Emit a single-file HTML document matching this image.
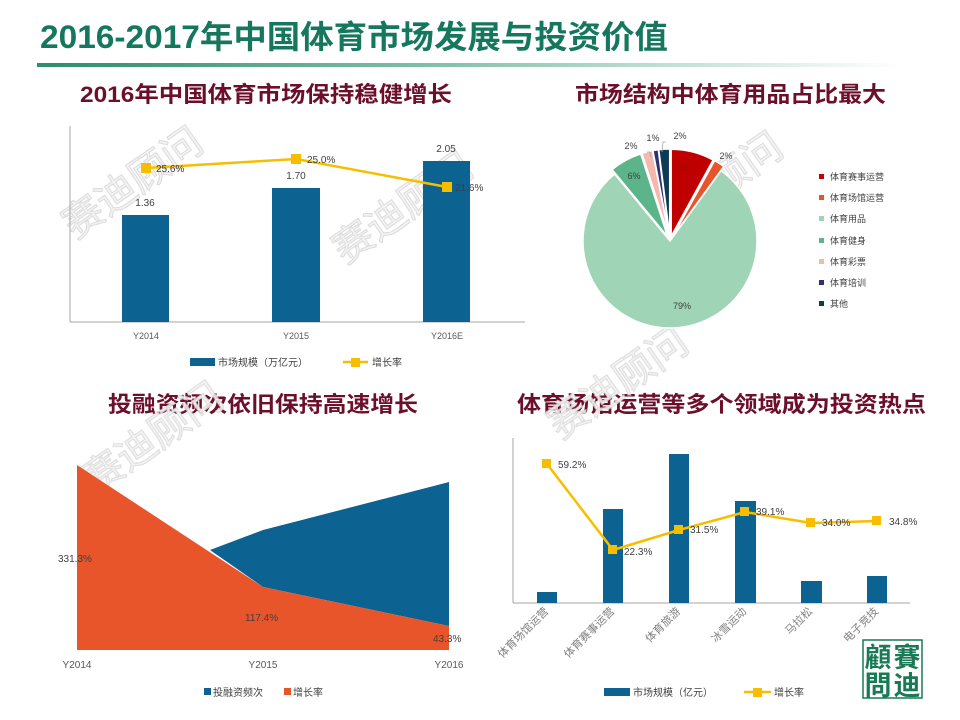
<!DOCTYPE html>
<html><head><meta charset="utf-8">
<style>
html,body{margin:0;padding:0;background:#fff;}
svg{display:block;}
text{font-family:"Liberation Sans","Noto Sans CJK SC",sans-serif;}
</style></head>
<body>
<svg width="960" height="720" viewBox="0 0 960 720" xmlns="http://www.w3.org/2000/svg">
<defs>
<linearGradient id="ul" x1="0" x2="1" y1="0" y2="0">
<stop offset="0" stop-color="#2e8b6e"/>
<stop offset="0.45" stop-color="#7fbfa6"/>
<stop offset="1" stop-color="#ffffff"/>
</linearGradient>
</defs>
<rect width="960" height="720" fill="#fff"/>

<!-- Title -->
<text x="40" y="48" font-size="32" font-weight="bold" fill="#16775f" textLength="628" lengthAdjust="spacingAndGlyphs">2016-2017年中国体育市场发展与投资价值</text>
<rect x="37" y="63" width="863" height="4" fill="url(#ul)"/>

<text x="80" y="102" font-size="22" font-weight="bold" fill="#6b0f2a" textLength="372" lengthAdjust="spacingAndGlyphs">2016年中国体育市场保持稳健增长</text>
<text x="575" y="102" font-size="22" font-weight="bold" fill="#6b0f2a" textLength="311" lengthAdjust="spacingAndGlyphs">市场结构中体育用品占比最大</text>
<text x="108" y="412" font-size="22" font-weight="bold" fill="#6b0f2a" textLength="310" lengthAdjust="spacingAndGlyphs">投融资频次依旧保持高速增长</text>
<text x="517" y="412" font-size="22" font-weight="bold" fill="#6b0f2a" textLength="409" lengthAdjust="spacingAndGlyphs">体育场馆运营等多个领域成为投资热点</text>

<!-- Watermarks -->
<g fill="none" stroke="#d8d8d8" stroke-width="1" font-size="40" opacity="0.9">
<text x="0" y="0" transform="translate(75,240) rotate(-35)" fill="#f2f2f2">赛迪顾问</text>
<text x="0" y="0" transform="translate(345,265) rotate(-35)" fill="#f2f2f2">赛迪顾问</text>
<text x="0" y="0" transform="translate(655,245) rotate(-35)" fill="#f2f2f2">赛迪顾问</text>
<text x="0" y="0" transform="translate(95,495) rotate(-35)" fill="#f2f2f2">赛迪顾问</text>
<text x="0" y="0" transform="translate(560,440) rotate(-35)" fill="#f2f2f2">赛迪顾问</text>
</g>

<!-- Chart 1 -->
<g>
<line x1="70" y1="126" x2="70" y2="322" stroke="#a6a6a6"/>
<line x1="70" y1="322" x2="525" y2="322" stroke="#a6a6a6"/>
<rect x="122" y="215" width="47" height="107" fill="#0c6290"/>
<rect x="272" y="188" width="48" height="134" fill="#0c6290"/>
<rect x="423" y="161" width="47" height="161" fill="#0c6290"/>
<g font-size="10" fill="#404040" text-anchor="middle">
<text x="145" y="206">1.36</text>
<text x="296" y="179">1.70</text>
<text x="446" y="152">2.05</text>
</g>
<polyline points="146,168 296,159 447,187" fill="none" stroke="#f7be00" stroke-width="2.5"/>
<rect x="141" y="163" width="10" height="10" fill="#f7be00"/>
<rect x="291" y="154" width="10" height="10" fill="#f7be00"/>
<rect x="442" y="182" width="10" height="10" fill="#f7be00"/>
<g font-size="10" fill="#404040">
<text x="156" y="172">25.6%</text>
<text x="307" y="163">25.0%</text>
<text x="455" y="191">21.6%</text>
</g>
<g font-size="9" fill="#595959" text-anchor="middle">
<text x="146" y="339">Y2014</text>
<text x="296" y="339">Y2015</text>
<text x="447" y="339">Y2016E</text>
</g>
<rect x="190" y="358" width="25" height="8" fill="#0c6290"/>
<text x="218" y="366" font-size="10" fill="#404040">市场规模（万亿元）</text>
<line x1="343" y1="362" x2="368" y2="362" stroke="#f7be00" stroke-width="2.5"/>
<rect x="351" y="358" width="9" height="9" fill="#f7be00"/>
<text x="372" y="366" font-size="10" fill="#404040">增长率</text>
</g>

<!-- Pie -->
<g stroke="#fff" stroke-width="1.5">
<path d="M670,241 L670,154 A87,87 0 0 1 711.9,164.8 Z" fill="#c00000" transform="translate(1.2,-4.8)"/>
<path d="M670,241 L711.9,164.8 A87,87 0 0 1 721.1,170.6 Z" fill="#e8552b" transform="translate(2.7,-4.2)"/>
<path d="M670,241 L721.1,170.6 A87,87 0 1 1 614.5,174.0 Z" fill="#9fd4b6"/>
<path d="M670,241 L614.5,174.0 A87,87 0 0 1 643.1,158.3 Z" fill="#5bb48a" transform="translate(-2.4,-4.4)"/>
<path d="M670,241 L643.1,158.3 A87,87 0 0 1 653.7,155.5 Z" fill="#f4b8ae" transform="translate(-1.2,-4.8)"/>
<path d="M670,241 L653.7,155.5 A87,87 0 0 1 659.1,154.7 Z" fill="#2e3172" transform="translate(-0.8,-4.9)"/>
<path d="M670,241 L659.1,154.7 A87,87 0 0 1 670,154 Z" fill="#0d3b55" transform="translate(-0.3,-5)"/>
</g>
<g font-size="9" fill="#404040" text-anchor="middle">
<text x="726" y="159">2%</text>
<text x="634" y="179">6%</text>
<text x="631" y="149">2%</text>
<text x="653" y="141">1%</text>
<text x="680" y="139">2%</text>
<text x="682" y="309">79%</text>
<text x="686" y="171" fill="#a00000">8%</text>
</g>
<g stroke="#a6a6a6" stroke-width="0.8" fill="none">
<polyline points="647,152 650,152 651,157"/>
<polyline points="666,142 663,142 662,152"/>
</g>
<g font-size="9" fill="#404040">
<rect x="819" y="174" width="5" height="5" fill="#c00000"/><text x="830" y="180">体育赛事运营</text>
<rect x="819" y="195" width="5" height="5" fill="#e8552b"/><text x="830" y="201">体育场馆运营</text>
<rect x="819" y="216" width="5" height="5" fill="#9fd4b6"/><text x="830" y="222">体育用品</text>
<rect x="819" y="238" width="5" height="5" fill="#5bb48a"/><text x="830" y="244">体育健身</text>
<rect x="819" y="259" width="5" height="5" fill="#f4b8ae"/><text x="830" y="265">体育彩票</text>
<rect x="819" y="280" width="5" height="5" fill="#2e3172"/><text x="830" y="286">体育培训</text>
<rect x="819" y="301" width="5" height="5" fill="#0d3b55"/><text x="830" y="307">其他</text>
</g>

<!-- Area chart -->
<polygon points="210,550 263,530 449,482 449,626 263,587" fill="#0c6290"/>
<polygon points="77,465 263,587 449,626 449,650 77,650" fill="#e8552b"/>
<g font-size="10" fill="#404040">
<text x="58" y="562">331.3%</text>
<text x="245" y="621">117.4%</text>
<text x="433" y="642">43.3%</text>
</g>
<g font-size="10" fill="#595959" text-anchor="middle">
<text x="77" y="668">Y2014</text>
<text x="263" y="668">Y2015</text>
<text x="449" y="668">Y2016</text>
</g>
<rect x="204" y="688" width="7" height="7" fill="#0c6290"/>
<text x="213" y="696" font-size="10" fill="#404040">投融资频次</text>
<rect x="284" y="688" width="7" height="7" fill="#e8552b"/>
<text x="293" y="696" font-size="10" fill="#404040">增长率</text>

<!-- Bottom-right chart -->
<line x1="513" y1="438" x2="513" y2="603" stroke="#a6a6a6"/>
<line x1="513" y1="603" x2="910" y2="603" stroke="#a6a6a6"/>
<g fill="#0c6290">
<rect x="537" y="592" width="20" height="11"/>
<rect x="603" y="509" width="20" height="94"/>
<rect x="669" y="454" width="20" height="149"/>
<rect x="735" y="501" width="21" height="102"/>
<rect x="801" y="581" width="21" height="22"/>
<rect x="867" y="576" width="20" height="27"/>
</g>
<polyline points="547,464 613,550 679,530 745,512 811,523 877,521" fill="none" stroke="#f7be00" stroke-width="2.5"/>
<g fill="#f7be00">
<rect x="542" y="459" width="9" height="9"/>
<rect x="608" y="545" width="9" height="9"/>
<rect x="674" y="525" width="9" height="9"/>
<rect x="740" y="507" width="9" height="9"/>
<rect x="806" y="518" width="9" height="9"/>
<rect x="872" y="516" width="9" height="9"/>
</g>
<g font-size="10" fill="#404040">
<text x="558" y="468">59.2%</text>
<text x="624" y="555">22.3%</text>
<text x="690" y="533">31.5%</text>
<text x="756" y="515">39.1%</text>
<text x="822" y="526">34.0%</text>
<text x="889" y="525">34.8%</text>
</g>
<g font-size="11" fill="#7f7f7f" text-anchor="end" style="font-family:'Noto Serif CJK SC',serif">
<text transform="translate(549,612) rotate(-45)">体育场馆运营</text>
<text transform="translate(615,612) rotate(-45)">体育赛事运营</text>
<text transform="translate(681,612) rotate(-45)">体育旅游</text>
<text transform="translate(747,612) rotate(-45)">冰雪运动</text>
<text transform="translate(813,612) rotate(-45)">马拉松</text>
<text transform="translate(879,612) rotate(-45)">电子竞技</text>
</g>
<rect x="604" y="688" width="26" height="8" fill="#0c6290"/>
<text x="633" y="696" font-size="10" fill="#404040">市场规模（亿元）</text>
<line x1="744" y1="692" x2="771" y2="692" stroke="#f7be00" stroke-width="2.5"/>
<rect x="753" y="688" width="9" height="9" fill="#f7be00"/>
<text x="774" y="696" font-size="10" fill="#404040">增长率</text>

<!-- Logo -->
<rect x="863" y="640" width="59" height="58" fill="#fff" stroke="#1a7a55" stroke-width="1.5"/>
<g font-size="27" font-weight="bold" fill="#1a7a55" style="font-family:'Noto Serif CJK TC','Noto Serif CJK SC',serif" text-anchor="middle">
<text x="878" y="667">顧</text>
<text x="907" y="667">賽</text>
<text x="878" y="695">問</text>
<text x="907" y="695">迪</text>
</g>
</svg>
</body></html>
